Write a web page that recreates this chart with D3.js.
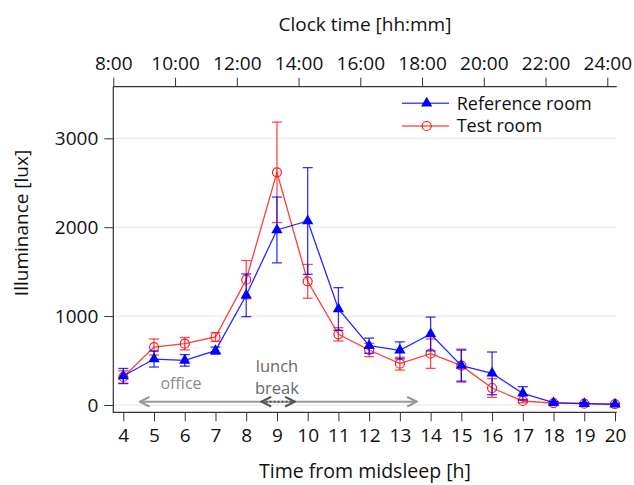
<!DOCTYPE html>
<html><head><meta charset="utf-8">
<script src="https://cdn.jsdelivr.net/npm/d3@7"></script>
<style>body{margin:0;background:#fff}svg{display:block}text{font-family:"Open Sans",sans-serif}</style>
</head><body><svg id="c" width="634" height="485"></svg>
<script>
const hours = [4,5,6,7,8,9,10,11,12,13,14,15,16,17,18,19,20];
const refMean = [326,517,502,611,1234,1969,2070,1080,667,615,799,443,356,131,26,15,8];
const refErr  = [85,90,65,40,240,370,600,240,85,95,190,175,240,75,15,10,8];
const testMean = [315,652,690,765,1410,2617,1391,795,619,465,577,443,191,45,22,15,10];
const testErr  = [70,90,70,50,215,565,190,75,75,72,165,185,105,20,10,8,6];
const yTicks = [0,1000,2000,3000];
const clockTicks = [8,10,12,14,16,18,20,22,24];
const seriesNames = ["Reference room","Test room"];
const officeSpan = [4.54,13.55];
const lunchSpan = [8.5,9.58];

const svg = d3.select("#c");
const L=113.3, R=616.7, T=86.7, B=412.3;
const x = d3.scaleLinear().domain([4,20]).range([123.3,615]);
const xTop = d3.scaleLinear().domain([8,24]).range([113.3,607.3]);
const y = d3.scaleLinear().domain([0,3000]).range([405,138.3]);
const blue="#0000ff", red="#ff1a1a";
const fs=19;

// grid
svg.append("g").selectAll("line").data(yTicks).join("line")
  .attr("x1",L).attr("x2",R).attr("y1",d=>y(d)).attr("y2",d=>y(d))
  .attr("stroke","#e6e6e6").attr("stroke-width",1);

// axes
const axStyle = g=>{g.select(".domain").remove();g.selectAll("line").attr("stroke","#333");g.selectAll("text").attr("font-size",fs).attr("fill","#111").attr("font-family","'Open Sans',sans-serif");};
svg.append("g").attr("transform",`translate(0,${B})`)
  .call(d3.axisBottom(x).tickValues(hours).tickSize(9).tickPadding(7).tickFormat(d3.format("d"))).call(axStyle);
svg.append("g").attr("transform",`translate(${L},0)`)
  .call(d3.axisLeft(y).tickValues(yTicks).tickSize(9).tickPadding(6).tickFormat(d3.format("d"))).call(axStyle);
svg.append("g").attr("transform",`translate(0,${T})`)
  .call(d3.axisTop(xTop).tickValues(clockTicks).tickSize(9).tickPadding(8).tickFormat(d=>d+":00")).call(axStyle);
svg.append("path").attr("d",`M${L},${T}V${B}H${R}`).attr("fill","none").attr("stroke","#333").attr("stroke-width",1.2);
svg.append("line").attr("x1",L).attr("x2",R).attr("y1",T).attr("y2",T).attr("stroke","#333").attr("stroke-width",1.2);

// titles
svg.append("text").attr("x",365).attr("y",31).attr("text-anchor","middle").attr("font-size",fs).attr("fill","#111").text("Clock time [hh:mm]");
svg.append("text").attr("x",365).attr("y",478).attr("text-anchor","middle").attr("font-size",19.5).attr("fill","#111").text("Time from midsleep [h]");
svg.append("text").attr("transform","translate(28,223) rotate(-90)").attr("text-anchor","middle").attr("font-size",fs).attr("fill","#111").text("Illuminance [lux]");

// annotations
const defs=svg.append("defs");
function mk(id,col){defs.append("marker").attr("id",id).attr("viewBox","0 0 10 10").attr("refX",9).attr("refY",5)
  .attr("orient","auto-start-reverse").attr("markerUnits","userSpaceOnUse")
  .attr("markerWidth",12).attr("markerHeight",12)
  .append("path").attr("d","M1,1L9,5L1,9").attr("fill","none").attr("stroke",col).attr("stroke-width",1.8);}
mk("ag","#9a9a9a"); mk("ad","#555");
svg.append("line").attr("x1",x(officeSpan[0])).attr("x2",x(officeSpan[1])).attr("y1",401.7).attr("y2",401.7)
  .attr("stroke","#9a9a9a").attr("stroke-width",2).attr("marker-start","url(#ag)").attr("marker-end","url(#ag)");
svg.append("line").attr("x1",x(lunchSpan[0])).attr("x2",x(lunchSpan[1])).attr("y1",401.7).attr("y2",401.7)
  .attr("stroke","#555").attr("stroke-width",2).attr("stroke-dasharray","2,2").attr("marker-start","url(#ad)").attr("marker-end","url(#ad)");
svg.append("text").attr("x",181).attr("y",389).attr("text-anchor","middle").attr("font-size",16).attr("fill","#8a8a8a").text("office");
svg.append("text").attr("x",277).attr("y",372).attr("text-anchor","middle").attr("font-size",16.5).attr("fill","#686868").text("lunch");
svg.append("text").attr("x",277).attr("y",394).attr("text-anchor","middle").attr("font-size",16.5).attr("fill","#686868").text("break");

// series
const tri = d3.symbol().type(d3.symbolTriangle).size(55);
function drawSeries(mean,err,col,kind){
  const g=svg.append("g");
  const data=hours.map((h,i)=>({h,m:mean[i],e:err[i]}));
  g.append("path").datum(data).attr("d",d3.line().x(d=>x(d.h)).y(d=>y(d.m)))
    .attr("fill","none").attr("stroke",col).attr("stroke-width",1.3).attr("stroke-opacity",0.85);
  const eb=g.append("g").attr("stroke",col).attr("stroke-width",1.3).attr("stroke-opacity",0.8);
  eb.selectAll(".v").data(data).join("line").attr("x1",d=>x(d.h)).attr("x2",d=>x(d.h)).attr("y1",d=>y(d.m-d.e)).attr("y2",d=>y(d.m+d.e));
  eb.selectAll(".t").data(data).join("line").attr("x1",d=>x(d.h)-5).attr("x2",d=>x(d.h)+5).attr("y1",d=>y(d.m+d.e)).attr("y2",d=>y(d.m+d.e));
  eb.selectAll(".b").data(data).join("line").attr("x1",d=>x(d.h)-5).attr("x2",d=>x(d.h)+5).attr("y1",d=>y(d.m-d.e)).attr("y2",d=>y(d.m-d.e));
  if(kind==="tri"){
    g.selectAll(".m").data(data).join("path").attr("d",tri).attr("transform",d=>`translate(${x(d.h)},${y(d.m)})`).attr("fill",col);
  } else {
    g.selectAll(".m").data(data).join("circle").attr("cx",d=>x(d.h)).attr("cy",d=>y(d.m)).attr("r",4.5).attr("fill","none").attr("stroke",col).attr("stroke-width",1.2);
  }
}
drawSeries(testMean,testErr,red,"circ");
drawSeries(refMean,refErr,blue,"tri");

// legend
const lg=svg.append("g");
[[blue,"tri",103.3],[red,"circ",126]].forEach((s,i)=>{
  lg.append("line").attr("x1",402).attr("x2",449).attr("y1",s[2]).attr("y2",s[2]).attr("stroke",s[0]).attr("stroke-width",1.5).attr("stroke-opacity",0.7);
  if(s[1]==="tri") lg.append("path").attr("d",tri).attr("transform",`translate(426.7,${s[2]})`).attr("fill",s[0]);
  else lg.append("circle").attr("cx",426.7).attr("cy",s[2]).attr("r",4.5).attr("fill","none").attr("stroke",s[0]).attr("stroke-width",1.2);
  lg.append("text").attr("x",456.7).attr("y",s[2]).attr("dy","0.35em").attr("font-size",18).attr("fill","#111").text(seriesNames[i]);
});
</script></body></html>
